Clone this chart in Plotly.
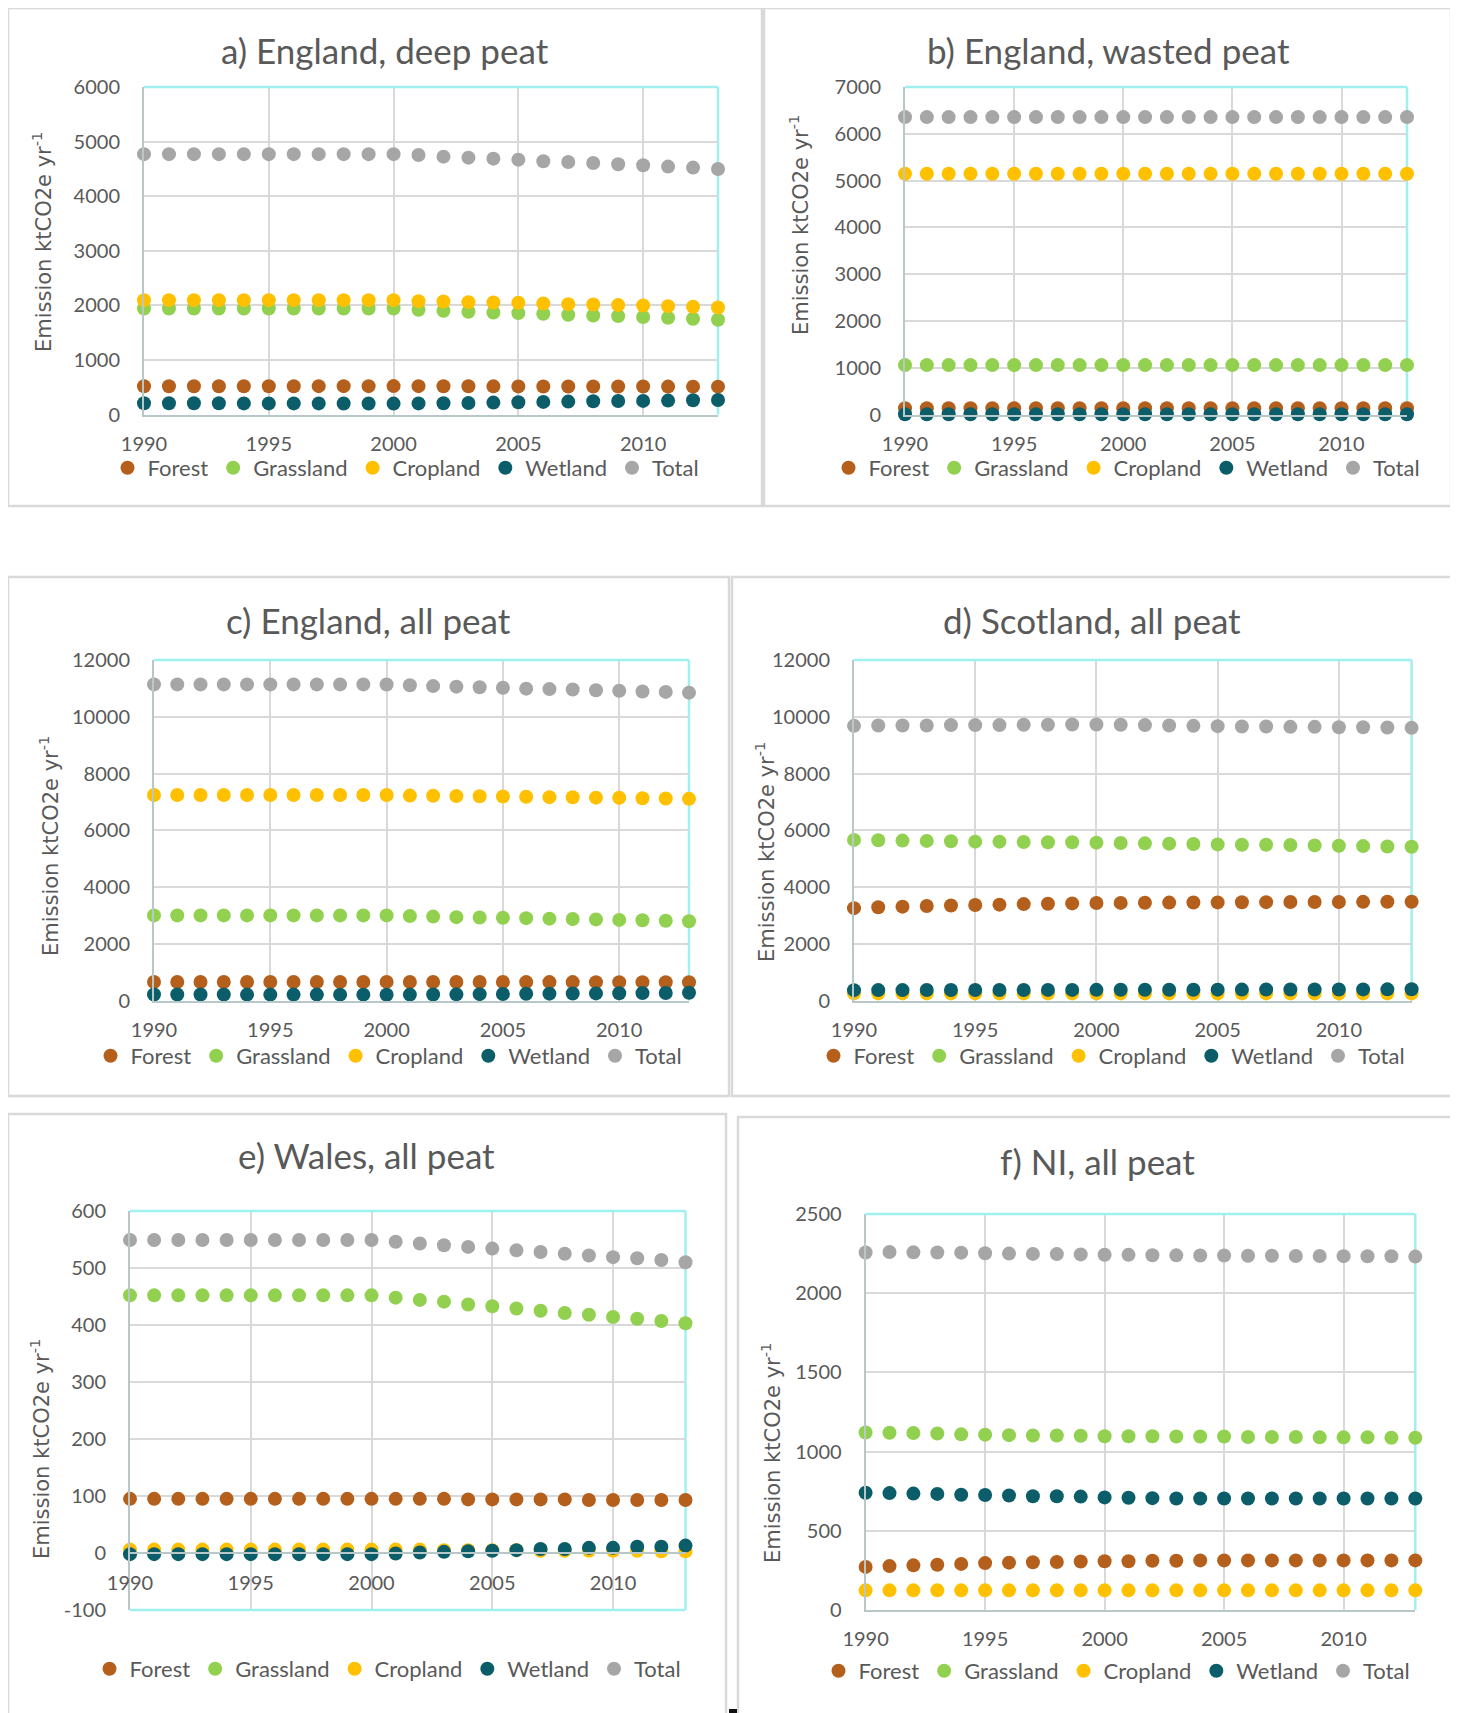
import plotly.graph_objects as go

W, H = 1458, 1713
OFF = 8  # browser body margin

years = [1990, 1991, 1992, 1993, 1994, 1995, 1996, 1997, 1998, 1999, 2000, 2001,
         2002, 2003, 2004, 2005, 2006, 2007, 2008, 2009, 2010, 2011, 2012, 2013]
x_ticks = [1990, 1995, 2000, 2005, 2010]
series_names = ["Forest", "Grassland", "Cropland", "Wetland", "Total"]
series_colors = ["#B4601C", "#92D050", "#FFC000", "#0B5E69", "#A6A6A6"]

# a) England, deep peat
a_forest = [518, 518, 518, 518, 518, 518, 518, 519, 519, 519, 520, 519, 518, 517, 516, 515, 514, 513, 513, 512, 512, 511, 510, 510]
a_grass = [1943, 1943, 1943, 1943, 1943, 1943, 1943, 1943, 1943, 1943, 1943, 1919, 1900, 1882, 1870, 1858, 1846, 1828, 1815, 1803, 1785, 1773, 1755, 1737]
a_crop = [2095, 2095, 2095, 2095, 2095, 2095, 2095, 2095, 2095, 2095, 2095, 2077, 2070, 2058, 2052, 2046, 2034, 2022, 2016, 2004, 1998, 1985, 1973, 1961]
a_wet = [205, 205, 205, 205, 203, 203, 203, 203, 202, 202, 200, 203, 206, 212, 218, 225, 231, 236, 242, 246, 249, 255, 261, 267]
a_total = [4770, 4770, 4770, 4770, 4770, 4770, 4770, 4770, 4770, 4770, 4770, 4754, 4724, 4706, 4687, 4669, 4639, 4627, 4608, 4584, 4566, 4542, 4523, 4499]

# b) England, wasted peat
b_forest = [135, 135, 135, 135, 135, 135, 135, 135, 135, 135, 135, 135, 135, 135, 135, 135, 135, 135, 135, 135, 135, 135, 135, 135]
b_grass = [1056, 1056, 1056, 1056, 1056, 1056, 1056, 1056, 1056, 1056, 1056, 1056, 1056, 1056, 1056, 1056, 1056, 1056, 1056, 1056, 1056, 1056, 1056, 1056]
b_crop = [5145, 5145, 5145, 5145, 5145, 5145, 5145, 5145, 5145, 5145, 5145, 5145, 5145, 5145, 5145, 5145, 5145, 5145, 5145, 5145, 5145, 5145, 5145, 5145]
b_wet = [5, 5, 5, 5, 5, 5, 5, 5, 5, 5, 5, 5, 5, 5, 5, 5, 5, 5, 5, 5, 5, 5, 5, 5]
b_total = [6357, 6357, 6357, 6357, 6357, 6357, 6357, 6357, 6357, 6357, 6357, 6357, 6357, 6357, 6357, 6357, 6357, 6357, 6357, 6357, 6357, 6357, 6357, 6357]

# c) England, all peat
c_forest = [653, 653, 653, 653, 653, 653, 653, 654, 654, 654, 655, 654, 653, 652, 651, 650, 649, 648, 648, 647, 647, 646, 645, 645]
c_grass = [3000, 3000, 3000, 3000, 3000, 3000, 3000, 3000, 3000, 3000, 3000, 2975, 2956, 2938, 2926, 2914, 2902, 2884, 2871, 2859, 2841, 2829, 2811, 2793]
c_crop = [7240, 7240, 7240, 7240, 7240, 7240, 7240, 7240, 7240, 7240, 7240, 7222, 7215, 7203, 7197, 7191, 7179, 7167, 7161, 7149, 7143, 7130, 7118, 7106]
c_wet = [210, 210, 210, 210, 208, 208, 208, 208, 207, 207, 205, 208, 211, 217, 223, 230, 236, 241, 247, 251, 254, 260, 266, 272]
c_total = [11140, 11140, 11140, 11140, 11140, 11140, 11140, 11140, 11140, 11140, 11135, 11110, 11080, 11060, 11040, 11020, 10990, 10975, 10960, 10935, 10915, 10890, 10875, 10850]

# d) Scotland, all peat
d_forest = [3255, 3285, 3308, 3330, 3350, 3365, 3378, 3398, 3410, 3422, 3435, 3440, 3446, 3450, 3454, 3458, 3462, 3466, 3469, 3472, 3474, 3476, 3478, 3480]
d_grass = [5660, 5648, 5636, 5624, 5611, 5599, 5599, 5587, 5575, 5575, 5563, 5551, 5539, 5527, 5514, 5502, 5490, 5490, 5478, 5466, 5454, 5442, 5429, 5417]
d_crop = [250, 250, 250, 250, 250, 250, 250, 250, 250, 250, 250, 250, 250, 250, 250, 250, 250, 250, 250, 250, 250, 250, 250, 250]
d_wet = [365, 366, 367, 368, 369, 370, 371, 372, 373, 374, 375, 377, 378, 380, 381, 383, 384, 386, 387, 389, 390, 391, 393, 395]
d_total = [9680, 9693, 9693, 9693, 9705, 9705, 9705, 9717, 9717, 9729, 9729, 9717, 9705, 9693, 9680, 9668, 9656, 9656, 9644, 9644, 9632, 9632, 9620, 9608]

# e) Wales, all peat
e_forest = [95, 95, 95, 95, 95, 95, 95, 95, 95, 95, 95, 95, 95, 95, 94, 94, 94, 94, 94, 93, 93, 93, 93, 93]
e_grass = [452, 452, 452, 452, 452, 452, 452, 452, 452, 452, 452, 448, 444, 441, 436, 433, 429, 425, 421, 418, 414, 411, 407, 403]
e_crop = [6, 6, 6, 6, 6, 6, 6, 6, 6, 6, 6, 6, 6, 5, 5, 5, 5, 4, 4, 4, 4, 4, 3, 3]
e_wet = [-2, -2, -2, -2, -2, -2, -2, -2, -2, -2, -2, -1, 1, 2, 3, 4, 5, 7, 7, 9, 9, 11, 11, 13]
e_total = [549, 549, 549, 549, 549, 549, 549, 549, 549, 549, 549, 546, 543, 540, 537, 534, 531, 528, 525, 522, 519, 517, 514, 510]

# f) NI, all peat
f_forest = [272, 277, 282, 286, 291, 296, 299, 301, 303, 306, 308, 308, 311, 311, 313, 313, 313, 313, 313, 313, 313, 313, 313, 313]
f_grass = [1121, 1119, 1117, 1114, 1109, 1107, 1104, 1102, 1102, 1100, 1097, 1097, 1097, 1095, 1095, 1095, 1092, 1092, 1092, 1090, 1090, 1090, 1087, 1087]
f_crop = [124, 124, 124, 124, 124, 124, 124, 124, 124, 124, 124, 124, 124, 124, 124, 124, 124, 124, 124, 124, 124, 124, 124, 124]
f_wet = [740, 738, 735, 733, 728, 726, 723, 718, 718, 716, 711, 709, 706, 704, 704, 704, 704, 704, 704, 704, 704, 704, 704, 704]
f_total = [2257, 2260, 2258, 2257, 2256, 2252, 2250, 2248, 2247, 2245, 2243, 2242, 2240, 2239, 2238, 2238, 2236, 2236, 2235, 2235, 2234, 2233, 2233, 2231]

titles = ["a) England, deep peat", "b) England, wasted peat", "c) England, all peat",
          "d) Scotland, all peat", "e) Wales, all peat", "f) NI, all peat"]
panel_data = [
    [a_forest, a_grass, a_crop, a_wet, a_total],
    [b_forest, b_grass, b_crop, b_wet, b_total],
    [c_forest, c_grass, c_crop, c_wet, c_total],
    [d_forest, d_grass, d_crop, d_wet, d_total],
    [e_forest, e_grass, e_crop, e_wet, e_total],
    [f_forest, f_grass, f_crop, f_wet, f_total],
]
y_tickvals = [
    [0, 1000, 2000, 3000, 4000, 5000, 6000],
    [0, 1000, 2000, 3000, 4000, 5000, 6000, 7000],
    [0, 2000, 4000, 6000, 8000, 10000, 12000],
    [0, 2000, 4000, 6000, 8000, 10000, 12000],
    [-100, 0, 100, 200, 300, 400, 500, 600],
    [0, 500, 1000, 1500, 2000, 2500],
]
y_ticktext = [
    ["0", "1000", "2000", "3000", "4000", "5000", "6000"],
    ["0", "1000", "2000", "3000", "4000", "5000", "6000", "7000"],
    ["0", "2000", "4000", "6000", "8000", "10000", "12000"],
    ["0", "2000", "4000", "6000", "8000", "10000", "12000"],
    ["-100", "0", "100", "200", "300", "400", "500", "600"],
    ["0", "500", "1000", "1500", "2000", "2500"],
]

# layout geometry in pixels (reference image coordinates)
plot_boxes = [(144, 718, 87, 414.5), (905, 1407, 87, 414.5), (154, 689, 660, 1000.5),
              (854, 1411.6, 660, 1000.5), (130, 685.5, 1211, 1610), (865.6, 1415.3, 1214, 1610)]
xaxis_pos = [None, None, None, None, 1553, None]
title_pos = [(385, 50), (1108, 50), (368, 620), (1092, 620), (366, 1155), (1097, 1161)]
ytitle_pos = [(42, 242), (799, 225), (49, 846), (765, 852), (40, 1449), (771, 1453)]
legend_pos = [(406, 468), (1127, 468), (389, 1056), (1112, 1056), (388, 1669), (1117, 1671)]
panel_boxes = [(8, 762, 8, 506), (764, 1451, 8, 506), (8, 729, 577, 1096),
               (732, 1452, 577, 1096), (8, 726, 1114, 1730), (738, 1475, 1117, 1730)]

def fx(px):
    return (px - OFF) / W

def fy(py):
    return 1 - (py - OFF) / H

TEXT = "#595959"
FONT = "Lato"

fig = go.Figure()
layout = dict(width=W, height=H, margin=dict(l=0, r=0, t=0, b=0, autoexpand=False),
              paper_bgcolor="white", plot_bgcolor="white", showlegend=True)
shapes = []
annotations = []

for i in range(6):
    s = "" if i == 0 else str(i + 1)
    leg = "legend" if i == 0 else "legend" + str(i + 1)
    for name, col, vals in zip(series_names, series_colors, panel_data[i]):
        fig.add_trace(go.Scatter(
            x=years, y=vals, mode="markers", name=name,
            marker=dict(color=col, size=14, line=dict(width=0)),
            xaxis="x" + s, yaxis="y" + s, legend=leg, cliponaxis=False,
            hoverinfo="skip"))
    x0, x1, y0, y1 = plot_boxes[i]
    xa = dict(domain=[fx(x0), fx(x1)], range=[1990, 2013], tickvals=x_ticks,
              ticktext=[str(v) for v in x_ticks], automargin=False,
              showgrid=True, gridcolor="#D9D9D9", gridwidth=1.5,
              showline=True, linecolor="#B8C8C8", linewidth=2,
              ticks="", ticklabelstandoff=10, zeroline=False,
              tickfont=dict(family=FONT, size=20, color=TEXT), fixedrange=True)
    if xaxis_pos[i] is not None:
        xa.update(anchor="free", position=fy(xaxis_pos[i]), ticklabelstandoff=12)
    else:
        xa.update(anchor="y" + s)
    ya = dict(domain=[fy(y1), fy(y0)], anchor="x" + s, range=[y_tickvals[i][0], y_tickvals[i][-1]],
              tickvals=y_tickvals[i], ticktext=y_ticktext[i], automargin=False,
              showgrid=True, gridcolor="#D9D9D9", gridwidth=1.5,
              showline=True, linecolor="#B8C8C8", linewidth=2,
              ticks="", ticklabelstandoff=18, zeroline=False,
              tickfont=dict(family=FONT, size=20, color=TEXT), fixedrange=True)
    layout["xaxis" + s] = xa
    layout["yaxis" + s] = ya

    # plot-area border (top, right, and bottom for Wales)
    border = dict(type="line", xref="x" + s + " domain", yref="y" + s + " domain",
                  line=dict(color="#A0F0F0", width=2.5))
    shapes.append(dict(border, x0=0, x1=1, y0=1, y1=1, layer="above"))
    shapes.append(dict(border, x0=1, x1=1, y0=0, y1=1, layer="below"))
    if xaxis_pos[i] is not None:
        shapes.append(dict(border, x0=0, x1=1, y0=0, y1=0, layer="above"))

    # panel frame
    px0, px1, py0, py1 = panel_boxes[i]
    shapes.append(dict(type="rect", xref="paper", yref="paper",
                       x0=fx(px0), x1=fx(px1), y0=fy(py1), y1=fy(py0),
                       line=dict(color="#D9D9D9", width=2.5), layer="below"))

    tx, ty = title_pos[i]
    annotations.append(dict(text=titles[i], x=fx(tx), y=fy(ty), xref="paper", yref="paper",
                            xanchor="center", yanchor="middle", showarrow=False,
                            font=dict(family=FONT, size=35, color=TEXT)))
    ax, ay = ytitle_pos[i]
    annotations.append(dict(text="Emission ktCO2e yr<sup>-1</sup>", x=fx(ax), y=fy(ay),
                            xref="paper", yref="paper", xanchor="center", yanchor="middle",
                            textangle=-90, showarrow=False,
                            font=dict(family="DejaVu Sans", size=21, color=TEXT)))
    lx, ly = legend_pos[i]
    layout[leg] = dict(orientation="h", x=fx(lx), y=fy(ly), xanchor="center", yanchor="middle",
                       font=dict(family=FONT, size=22, color=TEXT), bgcolor="rgba(0,0,0,0)",
                       itemwidth=30, tracegroupgap=0)

# small dark mark at the bottom edge
shapes.append(dict(type="rect", xref="paper", yref="paper", x0=fx(729), x1=fx(737),
                   y0=fy(1713), y1=fy(1709), fillcolor="#111111", line=dict(width=0)))

layout["shapes"] = shapes
layout["annotations"] = annotations
fig.update_layout(**layout)
fig.write_html("out.html", config={"displayModeBar": False})
